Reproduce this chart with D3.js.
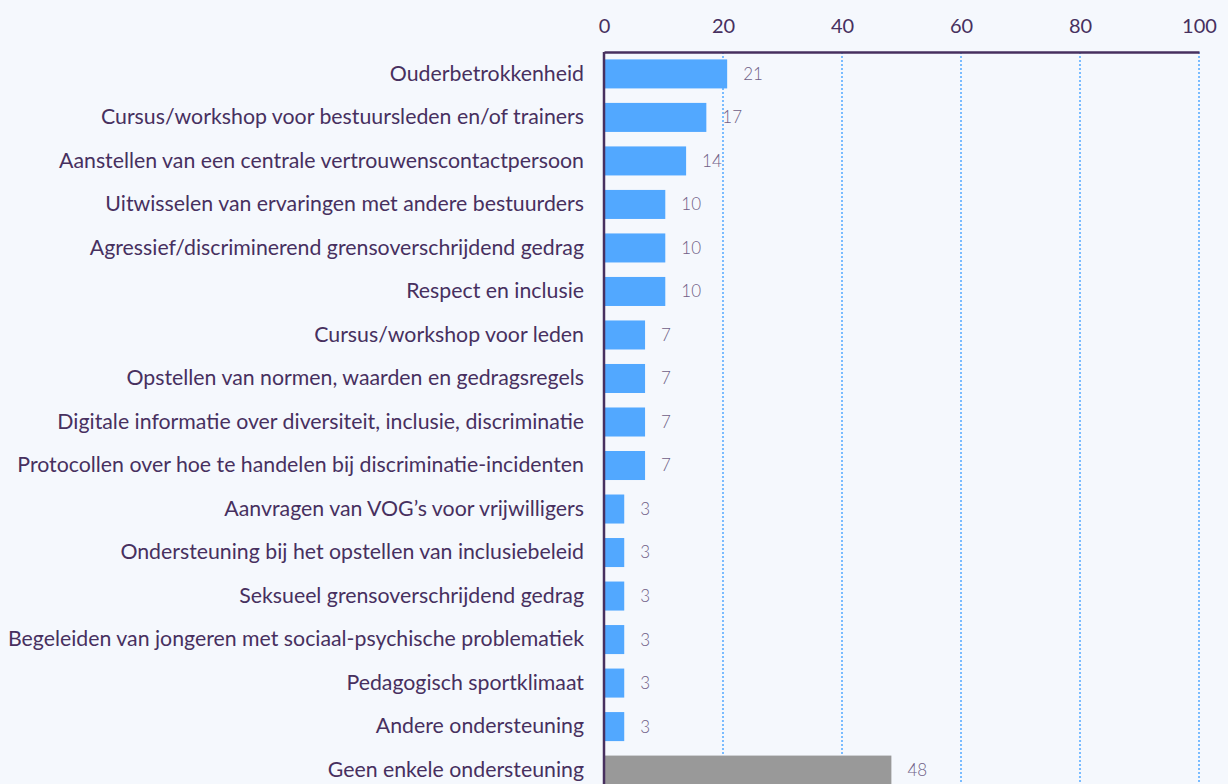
<!DOCTYPE html>
<html>
<head>
<meta charset="utf-8">
<script src="https://cdn.jsdelivr.net/npm/d3@7"></script>
<style>
	body { margin: 0; background: #f5f8fd; }
	svg { display: block; font-family: Lato, "Open Sans", sans-serif; }
</style>
</head>
<body>
<svg id="chart" width="1228" height="784"></svg>
<script>
const categories = [
	"Ouderbetrokkenheid",
	"Cursus/workshop voor bestuursleden en/of trainers",
	"Aanstellen van een centrale vertrouwenscontactpersoon",
	"Uitwisselen van ervaringen met andere bestuurders",
	"Agressief/discriminerend grensoverschrijdend gedrag",
	"Respect en inclusie",
	"Cursus/workshop voor leden",
	"Opstellen van normen, waarden en gedragsregels",
	"Digitale informatie over diversiteit, inclusie, discriminatie",
	"Protocollen over hoe te handelen bij discriminatie-incidenten",
	"Aanvragen van VOG’s voor vrijwilligers",
	"Ondersteuning bij het opstellen van inclusiebeleid",
	"Seksueel grensoverschrijdend gedrag",
	"Begeleiden van jongeren met sociaal-psychische problematiek",
	"Pedagogisch sportklimaat",
	"Andere ondersteuning",
	"Geen enkele ondersteuning"
];
// percentages; labels show them rounded
const values = [20.7, 17.2, 13.8, 10.3, 10.3, 10.3, 6.9, 6.9, 6.9, 6.9, 3.4, 3.4, 3.4, 3.4, 3.4, 3.4, 48.3];
const noneCategory = "Geen enkele ondersteuning";
const xTicks = [0, 20, 40, 60, 80, 100];

const TEXT_COLOR = "#47305f";
const VALUE_COLOR = "#6f5f86";
const BAR_COLOR = "#52a8ff";
const NONE_COLOR = "#999999";

const margin = { left: 604, right: 29, top: 52 };
const svg = d3.select("#chart");
const width = 1228;

const x = d3.scaleLinear()
	.domain([0, 100])
	.range([margin.left, width - margin.right]);

const y = d3.scaleBand()
	.domain(categories)
	.range([margin.top, margin.top + 740])
	.paddingInner(0.333)
	.paddingOuter(0.17);

const rows = categories.map((c, i) => ({ label: c, value: values[i] }));

// dotted gridlines
svg.append("g")
	.selectAll("line")
	.data(xTicks.filter(t => t > 0))
	.join("line")
	.attr("x1", d => x(d))
	.attr("x2", d => x(d))
	.attr("y1", margin.top)
	.attr("y2", 784)
	.attr("stroke", BAR_COLOR)
	.attr("stroke-width", 1.5)
	.attr("stroke-dasharray", "2,2");

// bars
svg.append("g")
	.selectAll("rect")
	.data(rows)
	.join("rect")
	.attr("x", x(0))
	.attr("y", d => y(d.label))
	.attr("width", d => x(d.value) - x(0))
	.attr("height", y.bandwidth())
	.attr("fill", d => d.label === noneCategory ? NONE_COLOR : BAR_COLOR);

// value labels
svg.append("g")
	.selectAll("text")
	.data(rows)
	.join("text")
	.attr("x", d => x(d.value) + 16)
	.attr("y", d => y(d.label) + y.bandwidth() / 2)
	.attr("dy", "0.35em")
	.attr("fill", VALUE_COLOR)
	.attr("font-size", 17)
	.attr("font-weight", 300)
	.text(d => Math.round(d.value));

// top axis
const xAxis = svg.append("g")
	.attr("transform", `translate(0,${margin.top})`)
	.call(d3.axisTop(x).tickValues(xTicks).tickSize(0).tickPadding(19));
xAxis.select(".domain").attr("stroke", TEXT_COLOR).attr("stroke-width", 2.5);
xAxis.selectAll("text")
	.attr("fill", TEXT_COLOR)
	.attr("font-size", 20)
	.attr("font-family", "Lato, sans-serif");

// left axis
const yAxis = svg.append("g")
	.attr("transform", `translate(${margin.left},0)`)
	.call(d3.axisLeft(y).tickSize(0).tickPadding(20));
yAxis.select(".domain").remove();
yAxis.append("line")
	.attr("x1", 0).attr("x2", 0)
	.attr("y1", margin.top).attr("y2", 784)
	.attr("stroke", TEXT_COLOR)
	.attr("stroke-width", 2.5);
yAxis.selectAll(".tick text")
	.attr("fill", TEXT_COLOR)
	.attr("font-size", 21.3)
	.attr("font-family", "Lato, sans-serif");
</script>
</body>
</html>
